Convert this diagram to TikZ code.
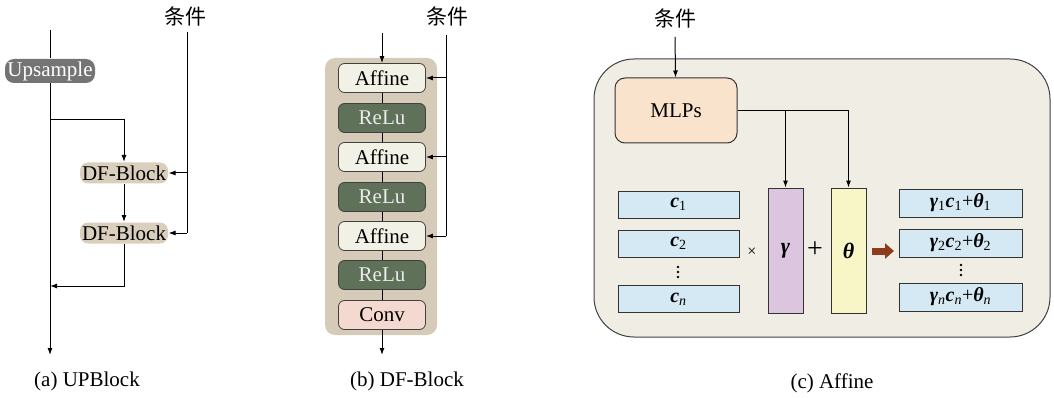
\documentclass[tikz,border=0pt]{standalone}
\usepackage{fontspec}
\setmainfont{Liberation Serif}
\newfontfamily\cjk{Noto Sans CJK SC}
\usetikzlibrary{arrows.meta,positioning}
\definecolor{upgray}{HTML}{747474}
\definecolor{dftan}{HTML}{D9CFBC}
\definecolor{dfbg}{HTML}{D6CBB8}
\definecolor{affc}{HTML}{F2F1E6}
\definecolor{reluc}{HTML}{5F7158}
\definecolor{convc}{HTML}{F3D9CF}
\definecolor{panelc}{HTML}{F0EEE4}
\definecolor{mlpc}{HTML}{FAE3CC}
\definecolor{vecc}{HTML}{D5E9F5}
\definecolor{gamc}{HTML}{DCC5DF}
\definecolor{thec}{HTML}{F8F5C6}
\definecolor{arrc}{HTML}{8E3B1D}
\newcommand{\vb}[1]{{\bfseries\itshape #1}}
\begin{document}
\begin{tikzpicture}[x=1pt,y=-1pt,>={Latex[length=7pt,width=5pt]},line width=1pt,
 every node/.style={font=\fontsize{21}{24}\selectfont,inner sep=0pt},
 ups/.style={fill=upgray,text=white,rounded corners=9pt,minimum width=90pt,minimum height=24pt},
 dfb/.style={fill=dftan,rounded corners=8pt,minimum width=88pt,minimum height=21pt},
 blk/.style={draw=black!75,line width=.8pt,rounded corners=6pt,minimum width=87pt,minimum height=29pt},
 aff/.style={blk,fill=affc},
 relu/.style={blk,fill=reluc,text=white!92!black},
 conv/.style={blk,fill=convc},
 vec/.style={draw=black!80,line width=.9pt,fill=vecc,minimum width=121pt,minimum height=27pt,font=\fontsize{20}{22}\selectfont},
 res/.style={vec,minimum width=123pt,minimum height=28pt},
 bar/.style={draw=black!80,line width=.9pt,minimum width=35pt,minimum height=125pt,font=\fontsize{22}{24}\selectfont},
 dot/.style={circle,fill=black,minimum size=2.8pt}]
\useasboundingbox (0,0) rectangle (1054,398);
% (a) UPBlock
\node[ups] (Ups) at (50,71) {Upsample};
\node[dfb] (DF1) at (124,173) {DF-Block};
\node[dfb] (DF2) at (124,233) {DF-Block};
\node (CondA) at (185,17) {\cjk 条件};
\coordinate (a-top) at (50,30); \coordinate (a-bot) at (50,355);
\coordinate (a-split) at (50,120); \coordinate (a-join) at (50,286);
\coordinate (ca-top) at (187,32); \coordinate (ca-end) at (187,233);
\draw (a-top) -- (Ups);
\draw[->] (Ups) -- (a-bot);
\draw[->] (a-split) -| (DF1);
\draw[->] (DF1) -- (DF2);
\draw[->] (DF2) |- (a-join);
\draw (ca-top) -- (ca-end);
\draw[->] (ca-end |- DF1) -- (DF1);
\draw[->] (ca-end) -- (DF2);
\node (CapA) at (87,381) {(a) UPBlock};
% (b) DF-Block
\node[fill=dfbg,rounded corners=10pt,minimum width=112pt,minimum height=277pt] (DFbg) at (381,196.5) {};
\foreach \n/\y/\s/\t in {1/78/aff/Affine,2/118/relu/ReLu,3/157/aff/Affine,4/197/relu/ReLu,5/236/aff/Affine,6/275/relu/ReLu,7/315/conv/Conv}
 \node[\s] (B-\n) at (382,\y) {\t};
\foreach \a/\b in {1/2,2/3,3/4,4/5,5/6,6/7}
 \draw[line width=.8pt] (B-\a) -- (B-\b);
\coordinate (b-in) at (382,33); \coordinate (b-out) at (382,355);
\draw[->] (b-in) -- (B-1);
\draw[->] (B-7) -- (b-out);
\node (CondB) at (447,17) {\cjk 条件};
\coordinate (cb-top) at (446,35); \coordinate (cb-end) at (446,236);
\draw (cb-top) -- (cb-end);
\foreach \n in {1,3,5}
 \draw[->] (cb-end |- B-\n) -- (B-\n);
\node (CapB) at (407,381) {(b) DF-Block};
% (c) Affine
\node[draw=black!75,fill=panelc,rounded corners=40pt,minimum width=456pt,minimum height=278pt] (Cbg) at (822,198) {};
\node (CondC) at (675,19) {\cjk 条件};
\node[draw=black!80,fill=mlpc,rounded corners=10pt,minimum width=122pt,minimum height=65pt] (MLP) at (676,110.5) {MLPs};
\coordinate (cc-top) at (675,37);
\draw[->] (cc-top) -- (MLP);
\node[bar,fill=gamc] (Gam) at (785.5,250.5) {\vb{γ}};
\node[bar,fill=thec] (The) at (848.5,250.5) {\vb{θ}};
\draw[->] (MLP.east) -| (The);
\draw[->] (Gam.north |- MLP.east) -- (Gam);
\foreach \n/\y/\s in {1/204.5/1,2/243.5/2,n/299/\textit{n}}
 \node[vec] (C-\n) at (678.5,\y) {\vb{c}\textsubscript{\s}};
\foreach \n/\y/\s in {1/203/1,2/243/2,n/297/\textit{n}}
 \node[res] (R-\n) at (960.5,\y) {\vb{γ}\textsubscript{\s}\vb{c}\textsubscript{\s}+\vb{θ}\textsubscript{\s}};
\foreach \d in {-5,0,5} {
 \node[dot] at (678,272+\d) {};
 \node[dot] at (961,270+\d) {};
}
\node[font=\fontsize{16}{16}\selectfont] (Times) at (752,252) {×};
\node[font=\fontsize{28}{28}\selectfont] (Plus) at (815,250) {+};
\coordinate (ar-s) at (872,251); \coordinate (ar-e) at (894,251);
\draw[-{Triangle[length=9pt,width=15pt]},line width=7pt,arrc] (ar-s) -- (ar-e);
\node (CapC) at (832,383) {(c) Affine};
\end{tikzpicture}
\end{document}
